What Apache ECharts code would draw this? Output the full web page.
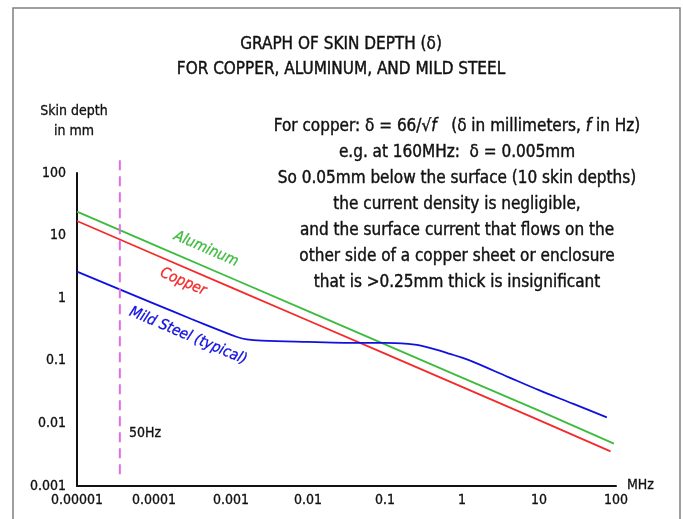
<!DOCTYPE html>
<html>
<head>
<meta charset="utf-8">
<script src="https://cdn.jsdelivr.net/npm/echarts@6/dist/echarts.min.js"></script>
<style>html,body{margin:0;padding:0;background:#fff}#c{width:683px;height:519px}</style>
</head>
<body>
<div id="c"></div>
<script>
// ---- data (frequency in MHz, skin depth in mm) ----
const freqCopper   = [1e-5, 1e-4, 1e-3, 0.01, 0.1, 1, 10, 85];
const copperDepth  = [17.1, 5.04, 1.49, 0.44, 0.13, 0.0383, 0.0113, 0.00358];
const freqAluminum = [1e-5, 1e-4, 1e-3, 0.01, 0.1, 1, 10, 94];
const aluminumDepth= [24.1, 7.1, 2.1, 0.62, 0.183, 0.054, 0.016, 0.00474];
const freqSteel    = [1e-5, 1e-4, 3e-4, 8e-4, 0.0012, 0.0016, 0.0025, 0.01, 0.03, 0.1, 0.2, 0.26, 0.35, 0.5, 0.7, 1, 1.4, 4, 10, 28, 76];
const steelDepth   = [2.65, 0.82, 0.47, 0.29, 0.24, 0.22, 0.21, 0.20, 0.194, 0.193, 0.186, 0.179, 0.165, 0.147, 0.129, 0.112, 0.096, 0.055, 0.034, 0.0205, 0.0125];
const marker50HzFreq = 3.6e-5;
const markerYRange = [160, 0.00135];
const xTickLabels = ['0.00001', '0.0001', '0.001', '0.01', '0.1', '1', '10', '100'];
const yTickLabels = ['0.001', '0.01', '0.1', '1', '10', '100'];
const titleLines = ['GRAPH OF SKIN DEPTH (δ)', 'FOR COPPER, ALUMINUM, AND MILD STEEL'];
const noteLines = [
  '{n|For copper: δ = 66/√}{i|f}{n|   (δ in millimeters, }{i|f}{n| in Hz)}',
  '{n|e.g. at 160MHz:  δ = 0.005mm}',
  '{n|So 0.05mm below the surface (10 skin depths)}',
  '{n|the current density is negligible,}',
  '{n|and the surface current that flows on the}',
  '{n|other side of a copper sheet or enclosure}',
  '{n|that is >0.25mm thick is insignificant}'
];

const FONT = "'Liberation Sans Narrow', 'DejaVu Sans Condensed', 'Noto Sans', sans-serif";
const INK = '#111';
const zip = (xs, ys) => xs.map((x, i) => [x, ys[i]]);

const chart = echarts.init(document.getElementById('c'));
const option = {
  animation: false,
  backgroundColor: '#fff',
  grid: { left: 77, right: 67, top: 173, bottom: 33, containLabel: false },
  xAxis: {
    type: 'log', min: 1e-5, max: 100, logBase: 10,
    name: 'MHz', nameLocation: 'end', nameGap: 11,
    nameTextStyle: { fontFamily: FONT, fontSize: 14, color: INK, verticalAlign: 'bottom', padding: [0, 0, -6, 0], textBorderColor: INK, textBorderWidth: 0.3 },
    axisLine: { lineStyle: { color: INK, width: 2 } },
    axisTick: { show: false },
    splitLine: { show: false },
    axisLabel: {
      margin: 7, fontFamily: FONT, fontSize: 14, color: INK, textBorderColor: INK, textBorderWidth: 0.3,
      formatter: v => xTickLabels[Math.round(Math.log10(v)) + 5]
    }
  },
  yAxis: {
    type: 'log', min: 0.001, max: 100, logBase: 10,
    axisLine: { show: true, lineStyle: { color: INK, width: 2 } },
    axisTick: { show: false },
    splitLine: { show: false },
    axisLabel: {
      margin: 11, fontFamily: FONT, fontSize: 14, color: INK, textBorderColor: INK, textBorderWidth: 0.3,
      formatter: v => yTickLabels[Math.round(Math.log10(v)) + 3]
    }
  },
  series: [
    { type: 'line', name: 'Aluminum', data: zip(freqAluminum, aluminumDepth), showSymbol: false,
      lineStyle: { color: '#3dbb3d', width: 1.8 }, itemStyle: { color: '#3dbb3d' } },
    { type: 'line', name: 'Copper', data: zip(freqCopper, copperDepth), showSymbol: false,
      lineStyle: { color: '#f42a2a', width: 1.8 }, itemStyle: { color: '#f42a2a' } },
    { type: 'line', name: 'Mild Steel', data: zip(freqSteel, steelDepth), showSymbol: false,
      smooth: 0.35,
      lineStyle: { color: '#1010e0', width: 1.8 }, itemStyle: { color: '#1010e0' } },
    { type: 'line', name: '50Hz', data: [[marker50HzFreq, markerYRange[0]], [marker50HzFreq, markerYRange[1]]],
      showSymbol: false, clip: false,
      lineStyle: { color: '#e36ee3', width: 2, type: [10, 6] } }
  ],
  graphic: [
    { type: 'rect', shape: { x: 13, y: 8, width: 667, height: 530 },
      style: { fill: 'none', stroke: '#808080', lineWidth: 1.5 }, silent: true },
    { type: 'text', x: 341, y: 45, style: { text: titleLines[0], font: '17px ' + FONT, fill: INK, stroke: INK, lineWidth: 0.4, align: 'center', verticalAlign: 'middle' } },
    { type: 'text', x: 341, y: 70, style: { text: titleLines[1], font: '17px ' + FONT, fill: INK, stroke: INK, lineWidth: 0.4, align: 'center', verticalAlign: 'middle' } },
    { type: 'text', x: 74, y: 111, style: { text: 'Skin depth', font: '14px ' + FONT, fill: INK, stroke: INK, lineWidth: 0.3, align: 'center', verticalAlign: 'middle' } },
    { type: 'text', x: 74, y: 131, style: { text: 'in mm', font: '14px ' + FONT, fill: INK, stroke: INK, lineWidth: 0.3, align: 'center', verticalAlign: 'middle' } },
    { type: 'text', x: 457, y: 114, style: {
        text: noteLines.join('\n'), align: 'center', verticalAlign: 'top', lineHeight: 26,
        fill: INK, stroke: INK, lineWidth: 0.4,
        rich: {
          n: { fontFamily: FONT, fontSize: 17, fill: INK, stroke: INK, lineWidth: 0.4, lineHeight: 26 },
          i: { fontFamily: FONT, fontSize: 17, fill: INK, stroke: INK, lineWidth: 0.4, fontStyle: 'italic', lineHeight: 26 }
        } } },
    { type: 'text', x: 145, y: 433, style: { text: '50Hz', font: '14px ' + FONT, fill: INK, stroke: INK, lineWidth: 0.3, align: 'center', verticalAlign: 'middle' } },
    { type: 'text', x: 206, y: 249, rotation: -0.41, style: { text: 'Aluminum', font: 'italic 15px ' + FONT, fill: '#3dbb3d', stroke: '#3dbb3d', lineWidth: 0.3, align: 'center', verticalAlign: 'middle' } },
    { type: 'text', x: 183, y: 282, rotation: -0.41, style: { text: 'Copper', font: 'italic 15px ' + FONT, fill: '#f42a2a', stroke: '#f42a2a', lineWidth: 0.3, align: 'center', verticalAlign: 'middle' } },
    { type: 'text', x: 188, y: 336, rotation: -0.40, style: { text: 'Mild Steel (typical)', font: 'italic 15px ' + FONT, fill: '#1010e0', stroke: '#1010e0', lineWidth: 0.3, align: 'center', verticalAlign: 'middle' } }
  ]
};
chart.setOption(option);
</script>
</body>
</html>
